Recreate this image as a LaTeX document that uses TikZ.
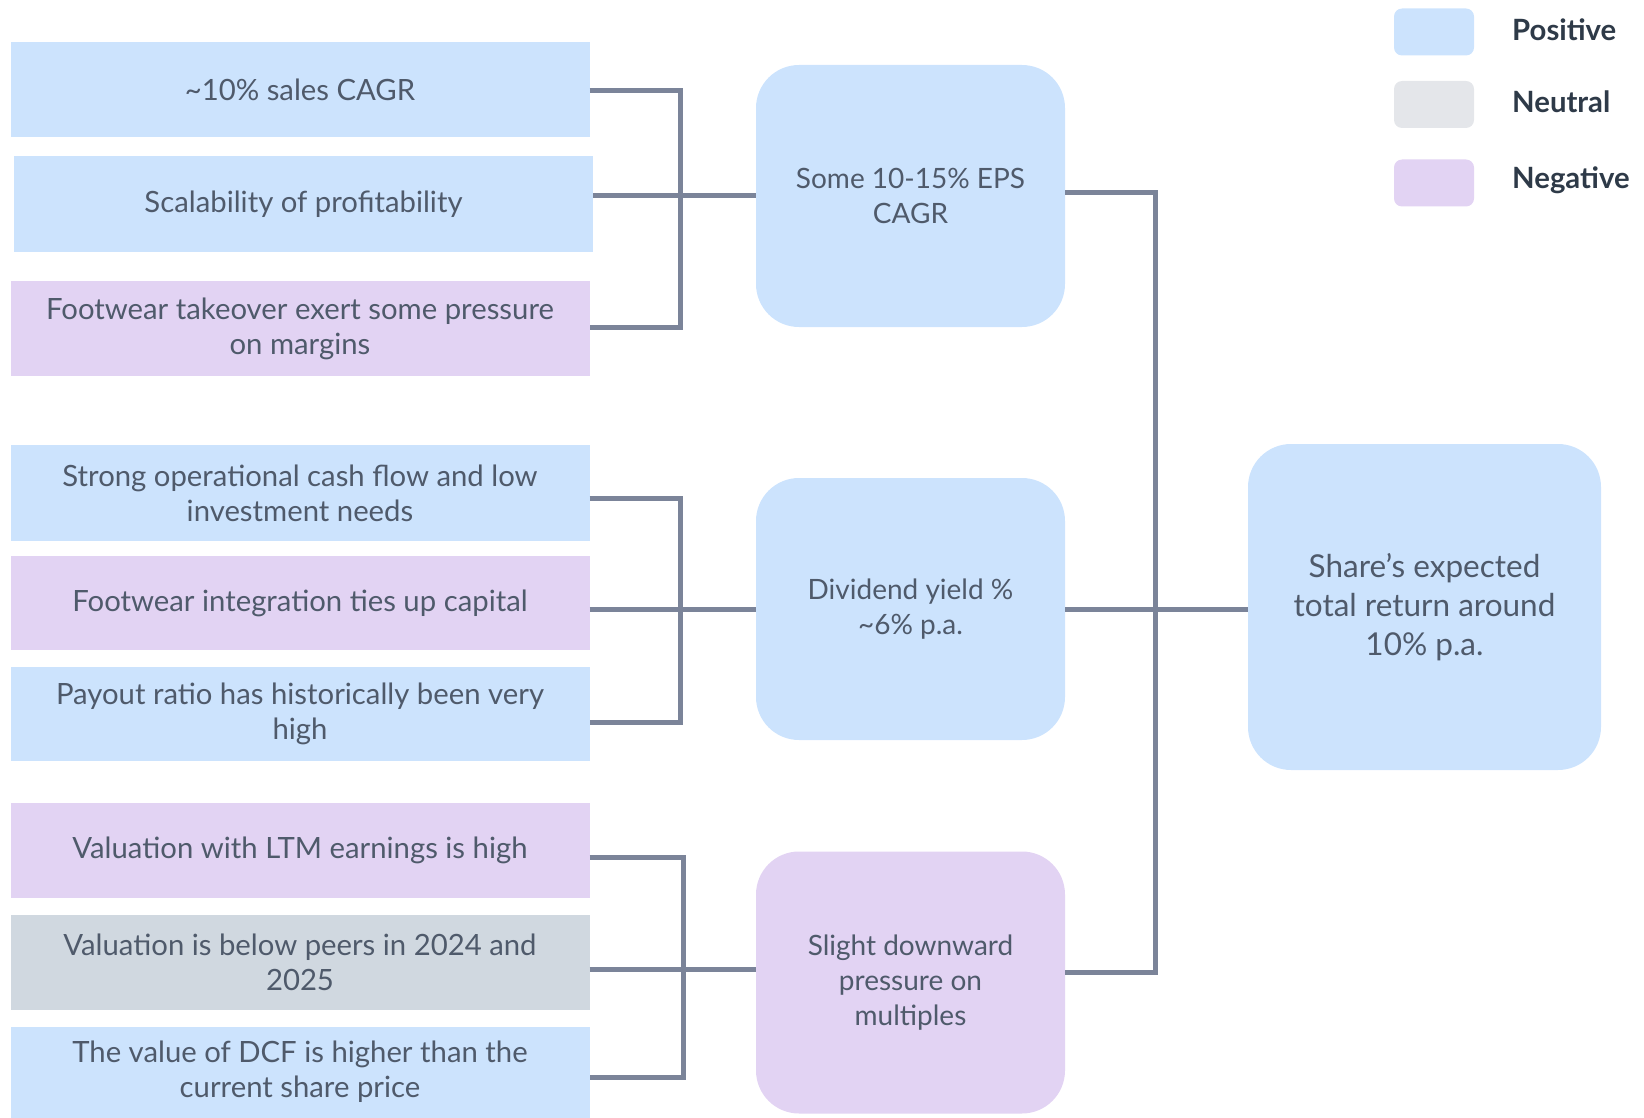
\documentclass[tikz,border=0pt]{standalone}
\usepackage{fontspec}
\setmainfont{Lato}
\definecolor{pos}{HTML}{CCE3FD}
\definecolor{neg}{HTML}{E2D3F3}
\definecolor{neu}{HTML}{D0D8E0}
\definecolor{legneu}{HTML}{E4E6EA}
\definecolor{lnk}{HTML}{7B8499}
\definecolor{txt}{HTML}{4F5A6B}
\definecolor{legtxt}{HTML}{2E3A48}
\begin{document}
\begin{tikzpicture}[x=1pt,y=-1pt,
  leftbox/.style={rectangle,minimum width=579,inner sep=0pt,align=center,text=txt,font=\fontsize{29.3}{35}\selectfont},
  midbox/.style={rectangle,rounded corners=43,minimum width=309,minimum height=262,inner sep=0pt,align=center,text=txt,font=\fontsize{28}{35}\selectfont},
  legbox/.style={rectangle,rounded corners=8,minimum width=80,minimum height=47,inner sep=0pt},
  legtext/.style={anchor=west,inner sep=0pt,text=legtxt,font=\fontsize{29.3}{35}\selectfont\bfseries},
  conn/.style={draw=lnk,line width=5pt}]
\useasboundingbox (0,0) rectangle (1644,1118);

% left boxes
\node[leftbox,fill=pos,minimum height=95] (b1) at (300,90) {\textasciitilde10\% sales CAGR};
\node[leftbox,fill=pos,minimum height=96] (b2) at (303.5,204) {Scalability of profitability};
\node[leftbox,fill=neg,minimum height=95] (b3) at (300,328.5) {Footwear takeover exert some pressure\\on margins};
\node[leftbox,fill=pos,minimum height=96] (b4) at (300,493) {Strong operational cash flow and low\\investment needs};
\node[leftbox,fill=neg,minimum height=94] (b5) at (300,603) {Footwear integration ties up capital};
\node[leftbox,fill=pos,minimum height=94] (b6) at (300,714) {Payout ratio has historically been very\\high};
\node[leftbox,fill=neg,minimum height=95] (b7) at (300,850) {Valuation with LTM earnings is high};
\node[leftbox,fill=neu,minimum height=95] (b8) at (300,962.5) {Valuation is below peers in 2024 and\\2025};
\node[leftbox,fill=pos,minimum height=91] (b9) at (300,1072) {The value of DCF is higher than the\\current share price};

% middle boxes
\node[midbox,fill=pos] (m1) at (910.5,196) {Some 10-15\% EPS\\CAGR};
\node[midbox,fill=pos] (m2) at (910.5,609) {Dividend yield \%\\\textasciitilde6\% p.a.};
\node[midbox,fill=neg] (m3) at (910.5,982.5) {Slight downward\\pressure on\\multiples};

% result box
\node[rectangle,rounded corners=43,minimum width=353,minimum height=326,inner sep=0pt,align=center,fill=pos,text=txt,font=\fontsize{31.5}{39}\selectfont] (r) at (1424.5,607) {Share’s expected\\total return around\\10\% p.a.};

% legend
\node[legbox,fill=pos] (l1) at (1434,32) {};
\node[legbox,fill=legneu] (l2) at (1434,104.5) {};
\node[legbox,fill=neg] (l3) at (1434,183) {};
\node[legtext] (t1) at (1512,30) {Positive};
\node[legtext] (t2) at (1512,102) {Neutral};
\node[legtext] (t3) at (1512,180) {Negative};

% connectors
\coordinate (g1) at (680,196);
\coordinate (g2) at (680,609);
\coordinate (g3) at (683,969);
\coordinate (g4) at (1155,609);
\draw[conn] ([yshift=-1pt]b1.east) -| (g1) |- ([yshift=1.5pt]b3.east);
\draw[conn] ([yshift=8pt]b2.east) -- (m1.west);
\draw[conn] ([yshift=-5pt]b4.east) -| (g2) |- ([yshift=-8pt]b6.east);
\draw[conn] ([yshift=-6pt]b5.east) -- (m2.west);
\draw[conn] ([yshift=-7pt]b7.east) -| (g3) |- ([yshift=-5pt]b9.east);
\draw[conn] ([yshift=-6.5pt]b8.east) -- ([yshift=13.5pt]m3.west);
\draw[conn] ([yshift=3pt]m1.east) -| (g4) |- ([yshift=10pt]m3.east);
\draw[conn] (m2.east) -- (m2.east -| r.west);
\end{tikzpicture}
\end{document}
